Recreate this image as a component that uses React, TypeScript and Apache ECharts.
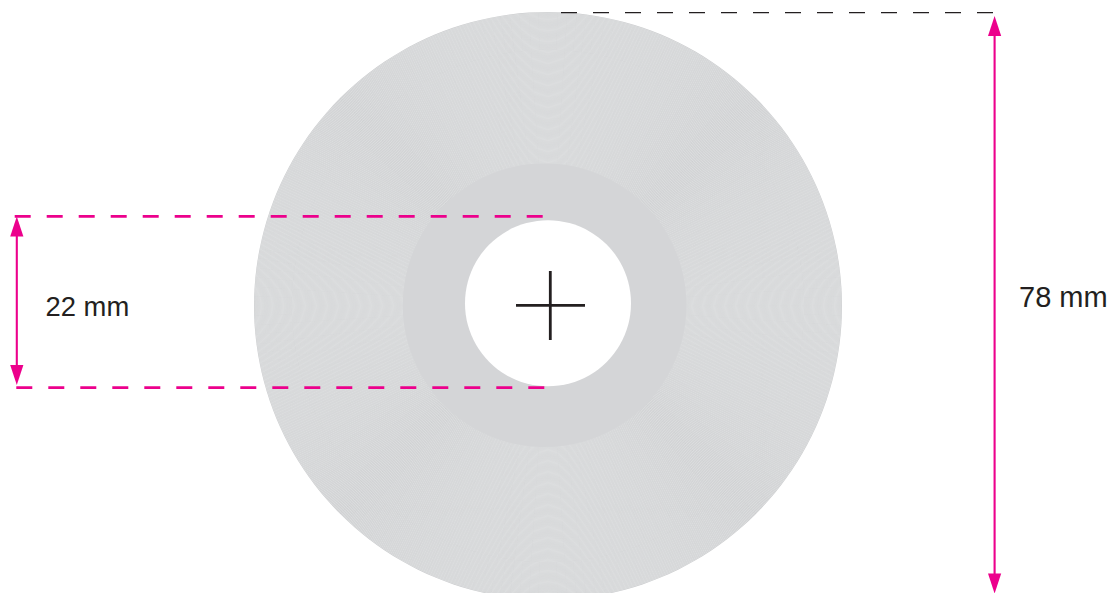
import React, { useEffect, useRef } from "react";
import * as echarts from "echarts";

// Drawing scale: the axes run over the drawing's own units.
const drawingWidth = 1108;
const drawingHeight = 593;

// [centre x, centre y, radius]
const outerDisc = [548, 306, 294];
const innerRing = [544.6, 305.2, 141.8];
const centreHole = [548, 303.3, 83];

// cross hair: [x1, y1, x2, y2]
const crossLines = [
  [516, 305.3, 585, 305.3],
  [550.3, 271, 550.3, 340],
];
const extensionLines = [
  { pts: [14.7, 216.3, 543, 216.3], colour: "#ec008c", width: 2.7 },
  { pts: [16.3, 387.7, 545, 387.7], colour: "#ec008c", width: 2.7 },
  { pts: [561, 12.6, 994, 12.6], colour: "#231f20", width: 1.3 },
];
// [x, top tip, bottom tip]
const dimensionArrows = [
  [16.8, 216.5, 385],
  [994.6, 16, 593.5],
];
const dimensionLabels = [
  { text: "22 mm", x: 45.5, y: 306, size: 27.4 },
  { text: "78 mm", x: 1019, y: 297, size: 29 },
];

const hatchPitch = 1.1;

export default function App() {
  const ref = useRef<HTMLDivElement>(null);
  useEffect(() => {
    const chart = echarts.init(ref.current!, undefined, { renderer: "svg" });
    const circleOf = (d: number[], api: any, style: any) => {
      const c = api.coord([d[0], d[1]]);
      const r = api.size([d[2], 0])[0];
      return { type: "circle", shape: { cx: c[0], cy: c[1], r }, style };
    };
    chart.setOption({
      animation: false,
      grid: { left: 0, top: 0, width: drawingWidth, height: drawingHeight, show: false },
      xAxis: { type: "value", min: 0, max: drawingWidth, show: false },
      yAxis: { type: "value", min: 0, max: drawingHeight, inverse: true, show: false },
      series: [
        {
          type: "custom",
          silent: true,
          clip: false,
          data: [outerDisc],
          renderItem: (_: any, api: any) => {
            const d = [api.value(0), api.value(1), api.value(2)];
            const children: any[] = [circleOf(d, api, { fill: "#cacbcd" })];
            for (let r = innerRing[2] - 6; r < d[2]; r += hatchPitch) {
              children.push(
                circleOf([d[0], d[1], r], api, { fill: "none", stroke: "#f1f2f2", lineWidth: 0.48 })
              );
            }
            return { type: "group", children };
          },
        },
        {
          type: "custom",
          silent: true,
          data: [innerRing],
          renderItem: (_: any, api: any) =>
            circleOf([api.value(0), api.value(1), api.value(2)], api, { fill: "#d4d5d7" }),
        },
        {
          type: "custom",
          silent: true,
          data: [centreHole],
          renderItem: (_: any, api: any) =>
            circleOf([api.value(0), api.value(1), api.value(2)], api, { fill: "#ffffff" }),
        },
        {
          type: "custom",
          silent: true,
          data: crossLines,
          renderItem: (_: any, api: any) => {
            const a = api.coord([api.value(0), api.value(1)]);
            const b = api.coord([api.value(2), api.value(3)]);
            return {
              type: "line",
              shape: { x1: a[0], y1: a[1], x2: b[0], y2: b[1] },
              style: { stroke: "#231f20", lineWidth: 2.8 },
            };
          },
        },
        {
          type: "custom",
          silent: true,
          data: extensionLines.map((l) => l.pts),
          renderItem: (p: any, api: any) => {
            const a = api.coord([api.value(0), api.value(1)]);
            const b = api.coord([api.value(2), api.value(3)]);
            const l = extensionLines[p.dataIndex];
            return {
              type: "line",
              shape: { x1: a[0], y1: a[1], x2: b[0], y2: b[1] },
              style: { stroke: l.colour, lineWidth: l.width, lineDash: [16, 16] },
            };
          },
        },
        {
          type: "custom",
          silent: true,
          data: dimensionArrows,
          renderItem: (_: any, api: any) => {
            const top = api.coord([api.value(0), api.value(1)]);
            const bottom = api.coord([api.value(0), api.value(2)]);
            const x = top[0];
            const fill = { fill: "#ec008c" };
            const headW = 6.6;
            const headL = 20;
            return {
              type: "group",
              children: [
                {
                  type: "line",
                  shape: { x1: x, y1: top[1] + headL - 1, x2: x, y2: bottom[1] - headL + 1 },
                  style: { stroke: "#ec008c", lineWidth: 2.1 },
                },
                {
                  type: "polygon",
                  shape: { points: [[x, top[1]], [x - headW, top[1] + headL], [x + headW, top[1] + headL]] },
                  style: fill,
                },
                {
                  type: "polygon",
                  shape: { points: [[x, bottom[1]], [x - headW, bottom[1] - headL], [x + headW, bottom[1] - headL]] },
                  style: fill,
                },
              ],
            };
          },
        },
        {
          type: "custom",
          silent: true,
          data: dimensionLabels.map((l) => [l.x, l.y]),
          renderItem: (p: any, api: any) => {
            const c = api.coord([api.value(0), api.value(1)]);
            const l = dimensionLabels[p.dataIndex];
            return {
              type: "text",
              x: c[0],
              y: c[1],
              style: {
                text: l.text,
                fill: "#231f20",
                font: `${l.size}px 'Liberation Sans', Arial, sans-serif`,
                textAlign: "left",
                textVerticalAlign: "middle",
              },
            };
          },
        },
      ],
    });
    return () => chart.dispose();
  }, []);
  return (
    <div
      ref={ref}
      style={{ position: "fixed", left: 0, top: 0, width: drawingWidth, height: drawingHeight, background: "#fff" }}
    />
  );
}
